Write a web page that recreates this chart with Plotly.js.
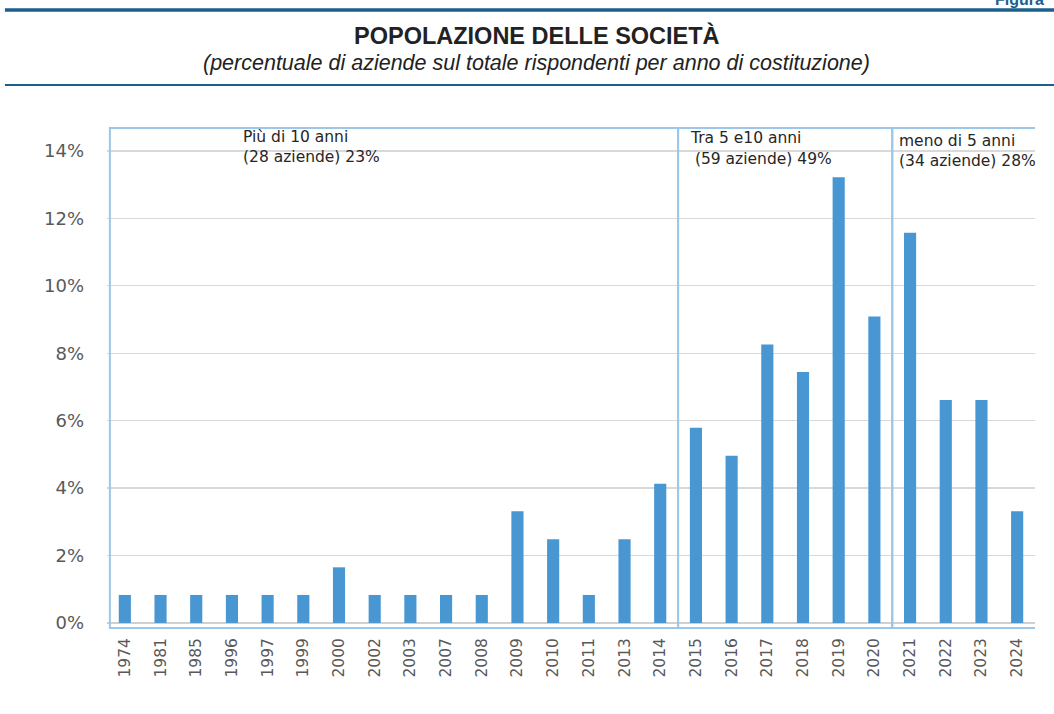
<!DOCTYPE html>
<html>
<head>
<meta charset="utf-8">
<script src="https://cdn.plot.ly/plotly-3.0.1.min.js"></script>
<style>
  html, body { margin: 0; padding: 0; background: #ffffff; }
  #chart { width: 1054px; height: 714px; }
</style>
</head>
<body>
<div id="chart"></div>
<script>
// Anno di costituzione delle aziende rispondenti (121 in totale)
const anni = ['1974','1981','1985','1996','1997','1999','2000','2002','2003','2007','2008',
              '2009','2010','2011','2013','2014',
              '2015','2016','2017','2018','2019','2020',
              '2021','2022','2023','2024'];
// Quota percentuale di aziende per anno
const percentuali = [0.83, 0.83, 0.83, 0.83, 0.83, 0.83, 1.65, 0.83, 0.83, 0.83, 0.83,
                     3.31, 2.48, 0.83, 2.48, 4.13,
                     5.79, 4.96, 8.26, 7.44, 13.22, 9.09,
                     11.57, 6.61, 6.61, 3.31];
const yTicks = [0, 2, 4, 6, 8, 10, 12, 14];
const yTickLabels = ['0%', '2%', '4%', '6%', '8%', '10%', '12%', '14%'];
// Fasce di anzianità: etichette e categorie di confine
const fasce = [
  {riga1: 'Più di 10 anni', riga2: '(28 aziende) 23%', da: '1974', a: '2014'},
  {riga1: 'Tra 5 e10 anni', riga2: ' (59 aziende) 49%', da: '2015', a: '2020'},
  {riga1: 'meno di 5 anni', riga2: '(34 aziende) 28%', da: '2021', a: '2024'}
];

const blu = '#4896d2';
const cornice = '#9cc6ea';
const grigio = '#595959';

const trace = {
  type: 'bar',
  x: anni,
  y: percentuali,
  marker: {color: blu},
  hoverinfo: 'x+y'
};

// Riquadri delle tre fasce, in coordinate di categoria
const shapes = [];
const idx = a => anni.indexOf(a);
fasce.forEach((f, i) => {
  const x0 = i === 0 ? idx(f.da) - 0.42 : idx(f.da) - 0.5;
  const x1 = i === fasce.length - 1 ? idx(f.a) + 0.73 : idx(f.a) + 0.5;
  shapes.push({type: 'rect', xref: 'x', yref: 'paper', x0: x0, x1: x1, y0: 0, y1: 1,
               line: {color: cornice, width: 2}, fillcolor: 'rgba(0,0,0,0)', layer: 'above'});
});
// Filetti dell'intestazione
shapes.push({type: 'line', xref: 'paper', yref: 'paper', x0: -0.11, x1: 1.03, y0: 1.236, y1: 1.236,
             line: {color: '#1d5f8c', width: 3.5}});
shapes.push({type: 'line', xref: 'paper', yref: 'paper', x0: -0.11, x1: 1.03, y0: 1.086, y1: 1.086,
             line: {color: '#1d5f8c', width: 2}});

const font = 'Liberation Sans, Arial, sans-serif';
const annotations = [
  {text: '<b>POPOLAZIONE DELLE SOCIETÀ</b>', xref: 'paper', yref: 'paper', x: 0.463, y: 1.186,
   xanchor: 'center', yanchor: 'middle',
   showarrow: false, font: {family: font, size: 23.5, color: '#222222'}},
  {text: '<i>(percentuale di aziende sul totale rispondenti per anno di costituzione)</i>',
   xref: 'paper', yref: 'paper', x: 0.463, y: 1.131, xanchor: 'center', yanchor: 'middle',
   showarrow: false, font: {family: font, size: 21.5, color: '#222222'}},
  {text: '<b>Figura</b>', xref: 'paper', yref: 'paper', x: 1.0115, y: 1.236,
   xanchor: 'right', yanchor: 'bottom',
   showarrow: false, font: {family: font, size: 16, color: '#1d5f8c'}}
];
const posEtichette = [
  {x1: 0.1444, y1: 0.982, x2: 0.1444, y2: 0.942},
  {x1: 0.626, y1: 0.980, x2: 0.626, y2: 0.938},
  {x1: 0.851, y1: 0.974, x2: 0.851, y2: 0.934}
];
fasce.forEach((f, i) => {
  const p = posEtichette[i];
  annotations.push({text: f.riga1, xref: 'paper', yref: 'paper', x: p.x1, y: p.y1,
    xanchor: 'left', yanchor: 'middle', showarrow: false,
    font: {family: 'DejaVu Sans, sans-serif', size: 15.5, color: '#262626'}});
  annotations.push({text: f.riga2, xref: 'paper', yref: 'paper', x: p.x2, y: p.y2,
    xanchor: 'left', yanchor: 'middle', showarrow: false,
    font: {family: 'DejaVu Sans, sans-serif', size: 15.5, color: '#262626'}});
});

const layout = {
  width: 1054,
  height: 714,
  margin: {l: 107, r: 19, t: 128, b: 86},
  paper_bgcolor: '#ffffff',
  plot_bgcolor: '#ffffff',
  showlegend: false,
  bargap: 0.66,
  xaxis: {
    type: 'category',
    tickangle: -90,
    tickfont: {family: 'DejaVu Sans, sans-serif', size: 15.5, color: grigio},
    showgrid: false,
    showline: false,
    ticks: '',
    ticklabelstandoff: 6,
    range: [-0.5, 25.5]
  },
  yaxis: {
    range: [-0.15, 14.68],
    tickvals: yTicks,
    ticktext: yTickLabels,
    tickfont: {family: 'DejaVu Sans, sans-serif', size: 18, color: grigio},
    gridcolor: '#d9d9d9',
    gridwidth: 1.2,
    zeroline: true,
    zerolinecolor: '#d0d0d0',
    zerolinewidth: 1.5,
    showline: false,
    ticks: '',
    ticklabelstandoff: 22
  },
  shapes: shapes,
  annotations: annotations
};

Plotly.newPlot('chart', [trace], layout, {displayModeBar: false, staticPlot: true});
</script>
</body>
</html>
